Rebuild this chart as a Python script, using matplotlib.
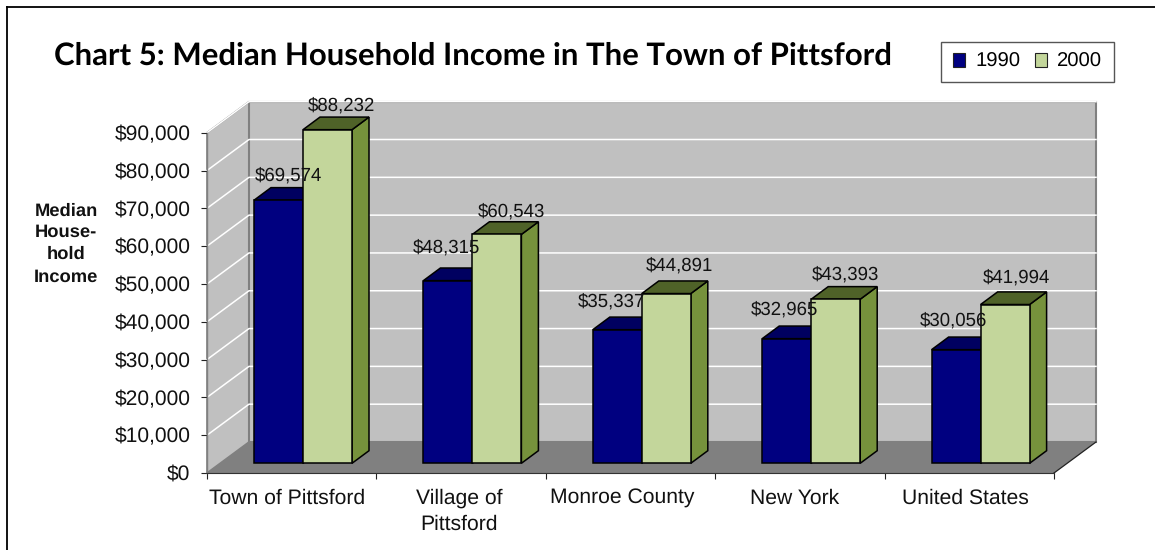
import matplotlib
matplotlib.use("Agg")
import matplotlib.pyplot as plt
from matplotlib.lines import Line2D
from matplotlib.patches import Patch, Polygon
from matplotlib.transforms import ScaledTranslation

plt.rcParams["font.family"] = "Liberation Sans"
plt.rcParams["text.hinting"] = "no_hinting"

categories = ["Town of Pittsford", "Village of\nPittsford", "Monroe County", "New York", "United States"]
income_1990 = [69574, 48315, 35337, 32965, 30056]
income_2000 = [88232, 60543, 44891, 43393, 41994]
y_ticks = [0, 10000, 20000, 30000, 40000, 50000, 60000, 70000, 80000, 90000]

# label nudges in pixels
nudge_1990 = [(10, 25), (-1, 33), (-6, 28), (-2, 29), (-3, 29)]
nudge_2000 = [(14, 24), (15, 23), (13, 28), (10, 25), (11, 27)]
cat_nudge = [-5, -2, -8, -5, -4]

W, H = 1155, 550
X0, X1 = 207, 1054
Y0, Y1 = 473, 132.7
DEPTH_X, DEPTH_Y = 42, 31      # floor depth
BAR_DX, BAR_DY = 17, 12.6      # bar depth
BAR_OFF_X, BAR_OFF_Y = 11.3, 9.7  # bars sit a bit behind the front edge
BAR_W = 49

NAVY = "#000080"
NAVY_TOP = "#000060"
GREEN = "#c3d69b"
GREEN_SIDE = "#76923c"
GREEN_TOP = "#4f6228"

fig = plt.figure(figsize=(W / 100, H / 100), dpi=100, facecolor="white")
ax = fig.add_axes([X0 / W, 1 - Y0 / H, (X1 - X0) / W, (Y0 - Y1) / H])
ax.set_xlim(0, 5)
ax.set_ylim(0, 90000)
ax.patch.set_visible(False)

px = 5 / (X1 - X0)
py = 90000 / (Y0 - Y1)


def poly(pts, face, edge="none", lw=0.0, z=1):
    ax.add_patch(Polygon(pts, closed=True, facecolor=face, edgecolor=edge, linewidth=lw,
                         clip_on=False, zorder=z, joinstyle="miter"))


dx, dy = DEPTH_X * px, DEPTH_Y * py

# walls and floor
poly([(0, 0), (dx, dy), (dx, 90000 + dy), (0, 90000)], "#c0c0c0", "#808080", 1.2, 1)
poly([(dx, 0 + dy), (5 + dx, dy), (5 + dx, 90000 + dy), (dx, 90000 + dy)], "#c0c0c0", "#808080", 1.5, 1)
poly([(0, 0), (5, 0), (5 + dx, dy), (dx, dy)], "#808080", "none", 0, 2)
ax.plot([5, 5 + dx], [0, dy], color="#222222", lw=0.9, clip_on=False, zorder=2)

# gridlines, side wall then back wall
for v in y_ticks[1:]:
    ax.plot([0, dx, 5 + dx], [v, v + dy, v + dy], color="white", lw=1.1, clip_on=False, zorder=1.5,
            solid_joinstyle="miter")


def bar3d(left, value, front, top, side, z):
    l = left
    r = left + BAR_W * px
    b = BAR_OFF_Y * py
    t = b + value
    ddx, ddy = BAR_DX * px, BAR_DY * py
    poly([(r, b), (r + ddx, b + ddy), (r + ddx, t + ddy), (r, t)], side, "black", 1.1, z)
    poly([(l, t), (r, t), (r + ddx, t + ddy), (l + ddx, t + ddy)], top, "black", 1.1, z)
    poly([(l, b), (r, b), (r, t), (l, t)], front, "black", 1.1, z)


for i, cat in enumerate(categories):
    centre = i + 0.5 + BAR_OFF_X * px
    left_1990 = centre - BAR_W * px
    bar3d(left_1990, income_1990[i], NAVY, NAVY_TOP, NAVY_TOP, 3 + i)
    bar3d(centre, income_2000[i], GREEN, GREEN_TOP, GREEN_SIDE, 3.5 + i)

    top_1990 = income_1990[i] + BAR_OFF_Y * py
    top_2000 = income_2000[i] + BAR_OFF_Y * py
    ax.annotate("${:,}".format(income_1990[i]), (left_1990 + BAR_W * px / 2, top_1990),
                xytext=(nudge_1990[i][0] * 0.72, nudge_1990[i][1] * 0.72), textcoords="offset points",
                ha="center", va="center", fontsize=13.4, color="#111111", zorder=20,
                annotation_clip=False)
    ax.annotate("${:,}".format(income_2000[i]), (centre + BAR_W * px / 2, top_2000),
                xytext=(nudge_2000[i][0] * 0.72, nudge_2000[i][1] * 0.72), textcoords="offset points",
                ha="center", va="center", fontsize=13.4, color="#111111", zorder=20,
                annotation_clip=False)

# axes
for s in ["top", "right"]:
    ax.spines[s].set_visible(False)
ax.spines["left"].set_color("#808080")
ax.spines["left"].set_linewidth(1.0)
ax.spines["bottom"].set_color("#333333")
ax.spines["bottom"].set_linewidth(0.8)
ax.spines["left"].set_zorder(2.5)
ax.spines["bottom"].set_zorder(2.5)

ax.set_yticks(y_ticks)
ax.set_yticklabels(["${:,}".format(v) for v in y_ticks], fontsize=15.1, color="#111111")
ax.tick_params(axis="y", length=4, width=0.8, pad=8, color="#222222")

ax.set_xticks(range(6))
ax.set_xticklabels([])
ax.tick_params(axis="x", which="major", length=4, width=0.8, color="#222222")
ax.set_xticks([i + 0.5 for i in range(5)], minor=True)
ax.set_xticklabels(categories, minor=True, fontsize=15.2, color="#111111", linespacing=1.45, va="top")
ax.tick_params(axis="x", which="minor", length=0, pad=11)
for lab, n in zip(ax.get_xminorticklabels(), cat_nudge):
    lab.set_transform(lab.get_transform() + ScaledTranslation(n / 100, 0, fig.dpi_scale_trans))

# y axis title
for line, ypx in zip(["Median", "House-", "hold", "Income"], [211, 232, 254, 277]):
    fig.text(66 / W, 1 - ypx / H, line, ha="center", va="center", fontsize=13.2, fontweight="bold",
             color="#111111")

fig.text(473 / W, 1 - 56 / H, "Chart 5: Median Household Income in The Town of Pittsford",
         ha="center", va="center", fontsize=22.4, fontweight="bold", family="Lato", color="black")

handles = [Patch(facecolor=NAVY, edgecolor="#222222", linewidth=0.8, label="1990"),
           Patch(facecolor=GREEN, edgecolor="#222222", linewidth=0.8, label="2000")]
leg = fig.legend(handles=handles, ncol=2, loc="center", bbox_to_anchor=(1027.5 / W, 1 - 62 / H),
                 prop={"size": 14.6},
                 frameon=True, fancybox=False, edgecolor="#555555", framealpha=1,
                 handlelength=0.62, handleheight=0.62, handletextpad=0.5, columnspacing=0.7,
                 borderpad=0.55, borderaxespad=0)
leg.get_frame().set_linewidth(1.0)

# outer frame, only left and top show
fig.add_artist(Line2D([7 / W, 7 / W], [0, 1 - 7 / H], color="black", lw=1.3))
fig.add_artist(Line2D([7 / W, 1], [1 - 7 / H, 1 - 7 / H], color="black", lw=1.3))

fig.savefig("out.png", dpi=100)
